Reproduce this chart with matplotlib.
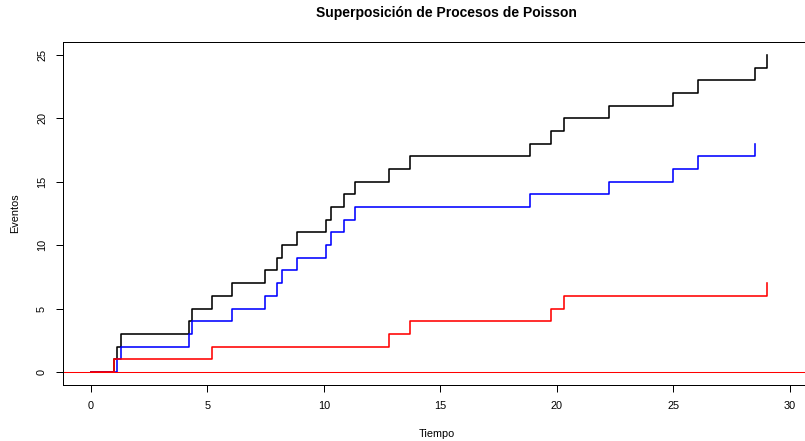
import numpy as np
import matplotlib
matplotlib.use("Agg")
import matplotlib.pyplot as plt

plt.rcParams["font.family"] = ["Liberation Sans", "DejaVu Sans"]

# arrival times of the two processes
t_blue = [1.13, 1.29, 4.23, 4.34, 6.05, 7.48, 7.98, 8.19, 8.84, 10.10,
          10.31, 10.87, 11.35, 18.84, 22.26, 24.98, 26.06, 28.53]
t_red = [0.99, 5.20, 12.79, 13.71, 19.75, 20.30, 29.04]

# superposition = union of both arrival sets
t_all = sorted(t_blue + t_red)


def counting(times):
    x = np.concatenate([[0.0], times])
    y = np.arange(len(x))
    return x, y


fig = plt.figure(figsize=(8.05, 4.41), dpi=100)
ax = fig.add_axes([63 / 805, 56 / 441, 747 / 805, 343 / 441])

lw = 1.15
x, y = counting(t_all)
ax.step(x, y, where="post", color="black", lw=lw)
x, y = counting(t_blue)
ax.step(x, y, where="post", color="blue", lw=lw)
x, y = counting(t_red)
ax.step(x, y, where="post", color="red", lw=lw)
ax.axhline(0, color="red", lw=0.75)

ax.set_xlim(-1.20, 30.88)
ax.set_ylim(-1.03, 26.02)
ax.set_xticks(np.arange(0, 31, 5))
ax.set_yticks(np.arange(0, 26, 5))
ax.tick_params(direction="out", length=5, width=0.72, labelsize=7.8, pad=6.5)
for lab in ax.get_yticklabels():
    lab.set_rotation(90)
    lab.set_va("center")
for s in ax.spines.values():
    s.set_linewidth(0.72)

ax.set_xlabel("Tiempo", fontsize=7.8, labelpad=13)
ax.set_ylabel("Eventos", fontsize=7.8, labelpad=12)
fig.text(446 / 805, 1 - 13 / 441, "Superposición de Procesos de Poisson",
         ha="center", va="center", fontsize=10, fontweight="bold")

fig.savefig("out.png", dpi=100)
